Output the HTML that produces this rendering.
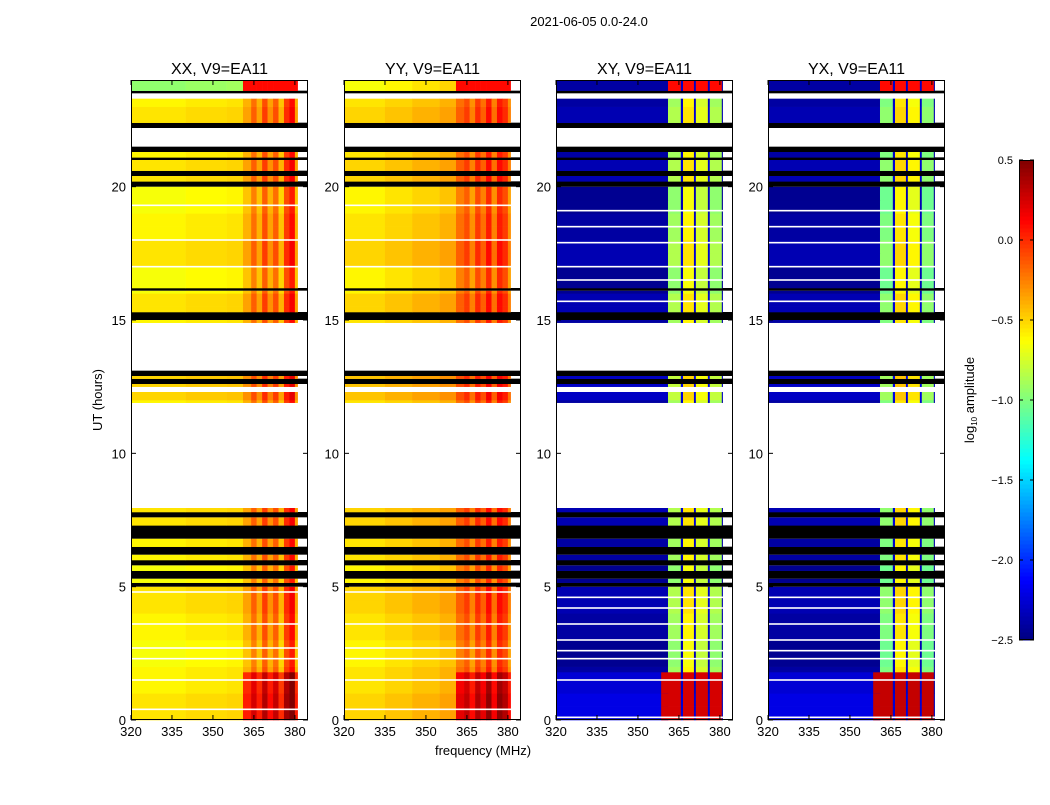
<!DOCTYPE html>
<html><head><meta charset="utf-8">
<style>
body{margin:0;background:#fff;}
svg text{font-family:"Liberation Sans",sans-serif;}
</style></head>
<body>
<svg id="fig" width="1050" height="800" xmlns="http://www.w3.org/2000/svg">
<rect width="1050" height="800" fill="#fff"/>
<text x="589" y="26" font-size="13" text-anchor="middle">2021-06-05 0.0-24.0</text>
<text x="102" y="400" font-size="13" text-anchor="middle" transform="rotate(-90 102 400)">UT (hours)</text>
<text x="483" y="755" font-size="13" text-anchor="middle">frequency (MHz)</text>
<text x="974" y="400" font-size="13" text-anchor="middle" transform="rotate(-90 974 400)">log<tspan font-size="8" dy="3">10</tspan><tspan dy="-3"> amplitude</tspan></text>
<g id="panels"></g>
<g id="cbar"></g>
</svg>
<script>
// ---- data ----
const panelTitles = ["XX, V9=EA11","YY, V9=EA11","XY, V9=EA11","YX, V9=EA11"];
const xTicks = [320,335,350,365,380];
const yTicks = [0,5,10,15,20];
const cbTicks = [0.5,0.0,-0.5,-1.0,-1.5,-2.0,-2.5];
const cbLabels = ["0.5","0.0","\u22120.5","\u22121.0","\u22121.5","\u22122.0","\u22122.5"];
const xxStarts = [320,340,355,361,364,366,368,370,372,374,376,378,380];
const xxVals   = [-0.6,-0.57,-0.55,-0.4,-0.2,-0.4,-0.1,-0.35,-0.15,-0.45,-0.05,0.1,-0.4];
const yyStarts = [320,335,345,355,361,364,366,368,370,372,374,376,378,380];
const yyVals   = [-0.55,-0.5,-0.45,-0.4,-0.2,-0.1,-0.3,-0.05,-0.2,0.05,-0.25,0.05,-0.05,-0.3];
const xyStarts = [320,361,365.7,366.5,370.5,371.2,375.6,376.3,380.7];
const xyVals   = [-2.4,-0.9,-2.3,-0.6,-2.3,-0.75,-2.3,-0.9,-2.4];
const yxStarts = [320,361,365.7,366.5,370.5,371.2,375.6,376.3,380.7];
const yxVals   = [-2.4,-1.0,-2.3,-0.55,-2.3,-0.65,-2.3,-1.0,-2.4];
const chanEnd = 381;
const lowBandParallelOffset = [0.4,0.35];
const lowBandCrossValue = [0.25,0.3];
const lowBandStart = [361,361,358.5,358.5];
const segStart = [0,1.8,5.0,5.15,5.3,5.6,5.8,6.0,6.2,6.5,6.8,7.3,7.6,7.8,7.95,11.9,12.3,12.5,12.6,12.8,12.9,13.1,14.9,15.0,15.3,16.1,16.2,20.0,20.2,20.4,20.6,21.0,21.1,21.3,21.5,22.2,22.4,23.3,23.5,23.6];
const segEnd   = [1.8,5.0,5.15,5.3,5.6,5.8,6.0,6.2,6.5,6.8,7.3,7.6,7.8,7.95,11.9,12.3,12.5,12.6,12.8,12.9,13.1,14.9,15.0,15.3,16.1,16.2,20.0,20.2,20.4,20.6,21.0,21.1,21.3,21.5,22.2,22.4,23.3,23.5,23.6,24];
const segType  = ["L","d","k","d","k","d","k","d","k","d","k","d","k","d","w","d","w","d","k","d","k","w","d","k","d","k","d","k","d","k","d","k","d","k","w","k","d","w","k","t"];
const hourVar = [0.05,0.0,-0.05,0.0,0.05,-0.05,0,0.05,0,0,0,0,0.1,0,0,0.05,-0.05,0.05,0.0,-0.05,0.05,0.0,0.05,0];
const topLowOffset = [-0.35,-0.1,0,0];
const whiteLinesParallel = [0.4,1.5,2.3,2.7,3.6,4.8,17.0,18.0,19.3];
const whiteLinesCross = [0.1,1.5,2.3,2.6,3.0,3.6,4.2,4.6,15.7,16.5,17.0,17.9,18.5,19.1];

// ---- layout ----
const panelX = [131,344,556,768], panelW = 177, plotTop = 80, plotBottom = 720;
const fMin = 320, fMax = 384.8;
const xs = (p,f)=> panelX[p] + (f-fMin)/(fMax-fMin)*panelW;
const ys = h => plotBottom - h/24*(plotBottom-plotTop);
function jet(v){
  let t = Math.max(0,Math.min(1,(v+2.5)/3));
  const c = x=>Math.round(255*Math.max(0,Math.min(1,x)));
  return `rgb(${c(1.5-Math.abs(4*t-3))},${c(1.5-Math.abs(4*t-2))},${c(1.5-Math.abs(4*t-1))})`;
}
const NS="http://www.w3.org/2000/svg";
function mk(tag,attrs,parent){const e=document.createElementNS(NS,tag);for(const k in attrs)e.setAttribute(k,attrs[k]);parent.appendChild(e);return e;}
const starts=[xxStarts,yyStarts,xyStarts,yxStarts], vals=[xxVals,yyVals,xyVals,yxVals];
const G=document.getElementById('panels');
for(let p=0;p<4;p++){
  const g=mk('g',{},G);
  
  
  const cross=p>=2;
  for(let s=0;s<segStart.length;s++){
    const y0=ys(segEnd[s]), y1=ys(segStart[s]), type=segType[s];
    if(type==='w') continue;
    if(type==='k'){
      const r=mk('rect',{x:panelX[p],y:y0,width:panelW,height:y1-y0,fill:'#000'},g);
      
      
      continue;
    }
    let h=segStart[s];
    while(h<segEnd[s]-1e-6){
      const h2=Math.min(segEnd[s],Math.floor(h*2+1e-6)/2+0.5);
      const hv=hourVar[Math.min(23,Math.floor(h))];
      for(let c=0;c<starts[p].length;c++){
        const f0=starts[p][c], f1=c+1<starts[p].length?starts[p][c+1]:chanEnd;
        let v=vals[p][c]+hv;
        const isGap=cross&&vals[p][c]<=-2.2&&f0>361;
        if(type==='L'){
          if(!cross){ if(f0>=lowBandStart[p]) v+=lowBandParallelOffset[p]; }
          else if(f0>=lowBandStart[p] && !isGap){ v=lowBandCrossValue[p-2]; }
          if(cross && f0<361) v=-2.25+hv;
        }
        if(type==='t' && f0<361) v+=topLowOffset[p];
        if(type==='t' && f0>=361 && !isGap) v=Math.max(v,0.1);
        const r=mk('rect',{x:xs(p,f0),y:ys(h2),width:xs(p,f1)-xs(p,f0)+0.3,height:ys(h)-ys(h2)+0.3,fill:jet(v)},g);
        
        
      }
      if(type==='L'&&cross){
        const r=mk('rect',{x:xs(p,lowBandStart[p]),y:ys(h2),width:xs(p,361)-xs(p,lowBandStart[p]),height:ys(h)-ys(h2)+0.3,fill:jet(lowBandCrossValue[p-2])},g);
        
        
      }
      h=h2;
    }
  }
  const wl=cross?whiteLinesCross:whiteLinesParallel;
  for(const w of wl){
    const l=mk('rect',{x:panelX[p],y:ys(w)-0.8,width:panelW,height:1.6,fill:'#fff'},g);
    
    
  }
  const fr=mk('rect',{x:panelX[p]+0.5,y:plotTop+0.5,width:panelW-1,height:plotBottom-plotTop-1,fill:'none',stroke:'#000','stroke-width':1},g);
  
  
  const t=mk('text',{x:panelX[p]+panelW/2,y:74,'font-size':16,'text-anchor':'middle'},g);
  t.textContent=panelTitles[p];
  
  
  for(const xt of xTicks){
    const x=xs(p,xt);
    mk('line',{x1:x,x2:x,y1:plotBottom,y2:plotBottom-5,stroke:'#000'},g);
    mk('line',{x1:x,x2:x,y1:plotTop,y2:plotTop+5,stroke:'#000'},g);
    const tl=mk('text',{x:x,y:plotBottom+16,'font-size':13,'text-anchor':'middle'},g);
    tl.textContent=xt;
    
    
  }
  for(const yt of yTicks){
    const y=ys(yt);
    mk('line',{x1:panelX[p],x2:panelX[p]+5,y1:y,y2:y,stroke:'#000'},g);
    mk('line',{x1:panelX[p]+panelW,x2:panelX[p]+panelW-5,y1:y,y2:y,stroke:'#000'},g);
    const tl=mk('text',{x:panelX[p]-5,y:y+5,'font-size':13,'text-anchor':'end'},g);
    tl.textContent=yt;
    
    
  }
}
const C=document.getElementById('cbar');
const cbX=1019,cbW=15,cbTop=160,cbBot=640;
const cbY=v=>cbBot-(v+2.5)/3*(cbBot-cbTop);
for(let i=0;i<120;i++){
  const v=-2.5+3*(i+0.5)/120;
  const r=mk('rect',{x:cbX,y:cbY(-2.5+3*(i+1)/120),width:cbW,height:(cbBot-cbTop)/120+0.5,fill:jet(v)},C);
  
  
}
const cf=mk('rect',{x:cbX+0.5,y:cbTop+0.5,width:cbW-1,height:cbBot-cbTop-1,fill:'none',stroke:'#000'},C);


cbTicks.forEach((v,i)=>{
  const y=cbY(v);
  mk('line',{x1:cbX,x2:cbX+4,y1:y,y2:y,stroke:'#000'},C);
  mk('line',{x1:cbX+cbW,x2:cbX+cbW-4,y1:y,y2:y,stroke:'#000'},C);
  const tl=mk('text',{x:1013,y:y+4,'font-size':11,'text-anchor':'end'},C);
  tl.textContent=cbLabels[i];
  
  
});
</script>
</body></html>
